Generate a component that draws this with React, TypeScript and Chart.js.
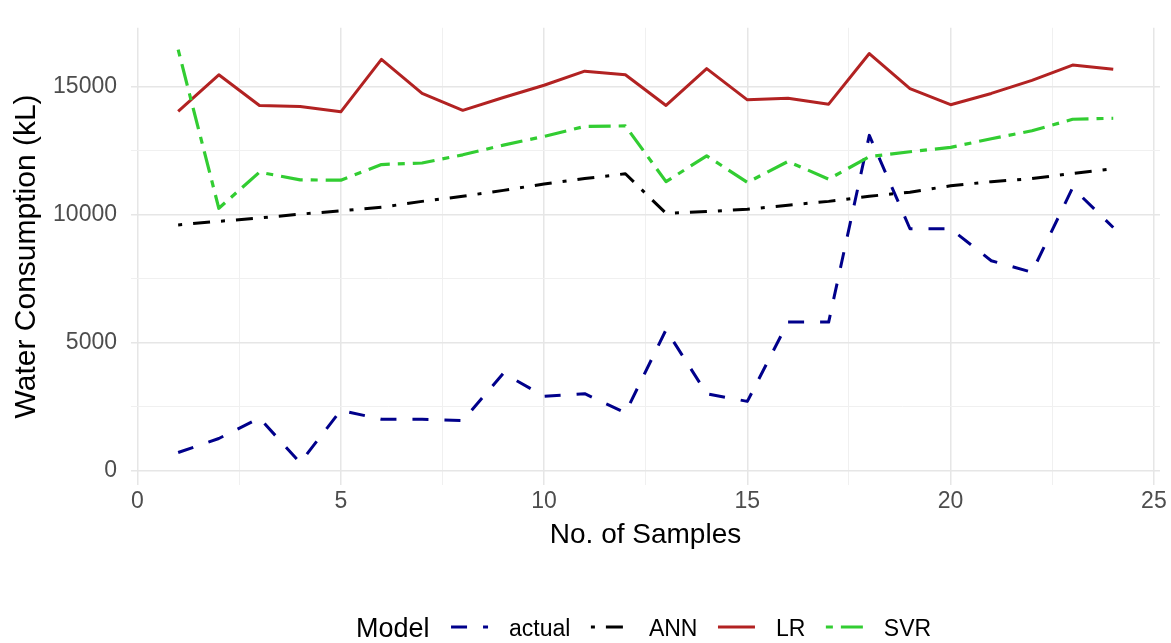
import React, { useEffect, useRef } from 'react';
import { Chart, registerables } from 'chart.js';

Chart.register(...registerables);

const samples = [1, 2, 3, 4, 5, 6, 7, 8, 9, 10, 11, 12, 13, 14, 15, 16, 17, 18, 19, 20, 21, 22, 23, 24];
const actual = [700, 1250, 2050, 300, 2350, 2000, 2000, 1950, 3800, 2900, 3000, 2250, 5500, 3000, 2700, 5800, 5800, 13100, 9450, 9450, 8200, 7750, 11050, 9500];
const ann = [9600, 9740, 9870, 10020, 10150, 10290, 10520, 10720, 10950, 11200, 11410, 11600, 10050, 10120, 10210, 10370, 10520, 10720, 10880, 11130, 11290, 11410, 11610, 11800];
const lr = [14040, 15470, 14270, 14230, 14020, 16070, 14740, 14080, 14580, 15060, 15610, 15470, 14270, 15710, 14490, 14550, 14320, 16300, 14930, 14300, 14740, 15250, 15850, 15690];
const svr = [16450, 10250, 11660, 11360, 11350, 11960, 12020, 12340, 12720, 13060, 13450, 13470, 11290, 12300, 11260, 12080, 11390, 12270, 12460, 12630, 12970, 13280, 13730, 13770];

const xTicks = [0, 2.5, 5, 7.5, 10, 12.5, 15, 17.5, 20, 22.5, 25];
const yTicks = [0, 2500, 5000, 7500, 10000, 12500, 15000];
const seriesNames = ['actual', 'ANN', 'LR', 'SVR'];
const legendTitle = 'Model';
const xTitle = 'No. of Samples';
const yTitle = 'Water Consumption (kL)';

const FONT = "'Liberation Sans', Arial, Helvetica, sans-serif";

export default function App() {
  const ref = useRef<HTMLCanvasElement | null>(null);

  useEffect(() => {
    if (!ref.current) return;
    const styles = [
      { label: seriesNames[0], data: actual, color: '#00008B', dash: [16, 16], width: 3, order: 4 },
      { label: seriesNames[1], data: ann, color: '#000000', dash: [4, 11, 17, 11], width: 3, order: 3 },
      { label: seriesNames[2], data: lr, color: '#B22222', dash: [] as number[], width: 3, order: 2 },
      { label: seriesNames[3], data: svr, color: '#32CD32', dash: [7, 8, 22, 8], width: 3.2, order: 1 },
    ];

    const legendPlugin = {
      id: 'ggLegend',
      afterDraw(chart: any) {
        const ctx = chart.ctx as CanvasRenderingContext2D;
        ctx.save();
        const keyY = 627;
        const textY = 630;
        let x = 356;
        ctx.textBaseline = 'middle';
        ctx.textAlign = 'left';
        ctx.fillStyle = '#000000';
        ctx.font = `27px ${FONT}`;
        ctx.fillText(legendTitle, x, textY);
        x += ctx.measureText(legendTitle).width + 21.5;
        ctx.font = `23px ${FONT}`;
        styles.forEach((s) => {
          ctx.save();
          ctx.strokeStyle = s.color;
          ctx.lineWidth = s.width;
          ctx.lineCap = 'butt';
          ctx.setLineDash(s.dash);
          ctx.beginPath();
          ctx.moveTo(x, keyY);
          ctx.lineTo(x + 37, keyY);
          ctx.stroke();
          ctx.restore();
          x += 37 + 21;
          ctx.fillStyle = '#000000';
          ctx.fillText(s.label, x, textY);
          x += ctx.measureText(s.label).width + 20.5;
        });
        ctx.restore();
      },
    };

    const chart = new Chart(ref.current, {
      type: 'line',
      data: {
        datasets: styles.map((s) => ({
          label: s.label,
          data: samples.map((xv, i) => ({ x: xv, y: s.data[i] })),
          borderColor: s.color,
          backgroundColor: s.color,
          borderWidth: s.width,
          borderDash: s.dash,
          borderCapStyle: 'butt',
          borderJoinStyle: 'round',
          pointRadius: 0,
          pointHoverRadius: 0,
          tension: 0,
          fill: false,
          order: s.order,
        })),
      },
      options: {
        animation: false,
        responsive: false,
        maintainAspectRatio: false,
        layout: { padding: { left: 0, top: 14, right: 11, bottom: 60 } },
        plugins: { legend: { display: false }, tooltip: { enabled: false } },
        scales: {
          x: {
            type: 'linear',
            min: -0.16,
            max: 25.15,
            afterBuildTicks: (s: any) => {
              s.ticks = xTicks.map((v) => ({ value: v }));
            },
            afterFit: (s: any) => {
              s.height = 98;
            },
            grid: {
              drawTicks: false,
              color: (c: any) => (c.tick && c.tick.value % 5 === 0 ? '#e6e6e6' : '#f0f0f0'),
              lineWidth: (c: any) => (c.tick && c.tick.value % 5 === 0 ? 1.5 : 1),
            },
            border: { display: false },
            ticks: {
              autoSkip: false,
              maxRotation: 0,
              padding: 3,
              color: '#4d4d4d',
              font: { family: FONT, size: 23 },
              callback: (v: any) => (Number(v) % 5 === 0 ? String(v) : ''),
            },
            title: {
              display: true,
              text: xTitle,
              color: '#000000',
              font: { family: FONT, size: 28 },
              padding: { top: 0, bottom: 31 },
            },
          },
          y: {
            type: 'linear',
            min: -569,
            max: 17306,
            afterBuildTicks: (s: any) => {
              s.ticks = yTicks.map((v) => ({ value: v }));
            },
            afterFit: (s: any) => {
              s.width = 131;
            },
            grid: {
              drawTicks: false,
              color: (c: any) => (c.tick && c.tick.value % 5000 === 0 ? '#e6e6e6' : '#f0f0f0'),
              lineWidth: (c: any) => (c.tick && c.tick.value % 5000 === 0 ? 1.5 : 1),
            },
            border: { display: false },
            ticks: {
              autoSkip: false,
              padding: 14,
              color: '#4d4d4d',
              font: { family: FONT, size: 23 },
              callback: (v: any) => (Number(v) % 5000 === 0 ? String(v) : ''),
            },
            title: {
              display: true,
              text: yTitle,
              color: '#000000',
              font: { family: FONT, size: 30 },
              padding: { top: 9, bottom: 0 },
            },
          },
        },
      },
      plugins: [legendPlugin],
    } as any);

    return () => chart.destroy();
  }, []);

  return (
    <div style={{ position: 'absolute', left: 0, top: 0, width: 1171, height: 643, background: '#ffffff' }}>
      <canvas ref={ref} width={1171} height={643} style={{ display: 'block', width: 1171, height: 643 }} />
    </div>
  );
}
